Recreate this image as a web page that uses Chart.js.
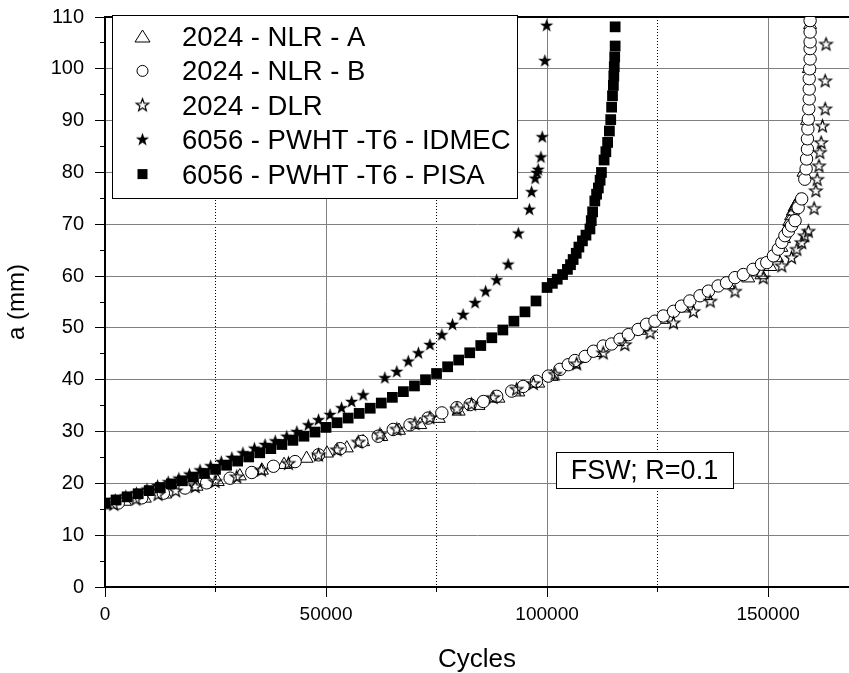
<!DOCTYPE html>
<html><head><meta charset="utf-8">
<script src="https://cdn.jsdelivr.net/npm/chart.js@4.4.1/dist/chart.umd.min.js"></script>
<style>html,body{margin:0;padding:0;background:#fff;}canvas{display:block;}</style>
</head><body>
<canvas id="c" width="849" height="673"></canvas>
<script>
// ---------- data (cycles, a [mm]) ----------
const seriesNames = ['2024 - NLR - A', '2024 - NLR - B', '2024 - DLR', '6056 - PWHT -T6 - IDMEC', '6056 - PWHT -T6 - PISA'];

const nlrA = [[0,15.8],[4500,16.5],[9000,17.1],[13600,17.9],[20700,19.4],[25500,20.3],[30500,21.4],[35500,22.5],[40500,23.6],[45600,24.8],[50200,25.8],[54700,26.8],[58400,28.0],[62500,29.0],[66500,30.2],[71300,31.3],[75500,32.5],[80000,33.9],[84500,35.0],[89000,36.4],[93500,37.6],[98000,39.3],[101000,40.6],[106000,43.0],[111000,45.2],[116000,47.3],[121000,49.5],[126000,51.6],[131000,53.8],[136000,56.2],[141000,58.3],[145500,59.6],[148500,60.2],[150500,61.8],[152000,63.5],[153000,65.5],[153600,67.2],[154200,69.0],[154800,70.5],[155200,71.6],[155600,72.5],[156000,73.3],[156500,74.0],[156900,74.6],[158000,80.0],[158800,90.0],[159200,100.0],[159500,108.5]];

const nlrB = [[3000,16.2],[8300,17.2],[13200,18.1],[18100,19.1],[23000,20.1],[28300,21.0],[33200,22.1],[38100,23.3],[43000,24.2],[48300,25.5],[53200,26.7],[58100,28.1],[61800,29.1],[65200,30.4],[69000,31.3],[73100,32.6],[76200,33.6],[79600,34.6],[82600,35.2],[85600,35.8],[88600,36.8],[92000,37.8],[94600,38.7],[97600,39.7],[100300,40.7],[102900,42.0],[104800,42.9],[106300,43.7],[108600,44.5],[110500,45.5],[112700,46.5],[114600,46.9],[116500,47.8],[118400,48.7],[120600,49.7],[122500,50.7],[124400,51.3],[126300,52.3],[128600,53.2],[130400,54.2],[132300,55.2],[134600,56.2],[136500,57.1],[138700,58.1],[140600,58.7],[142500,59.7],[144400,60.3],[146600,61.3],[148500,62.3],[149700,62.6],[151200,63.9],[152300,65.2],[153100,66.5],[153800,67.8],[154600,68.7],[155300,69.7],[156100,70.7],[156800,73.2],[157600,74.9],[158300,78.7],[158600,80.7],[158700,82.6],[158900,84.5],[158900,86.5],[159000,88.4],[159100,90.3],[159200,92.3],[159300,94.2],[159300,96.1],[159300,98.1],[159400,100.0],[159500,101.9],[159500,103.9],[159500,105.2],[159500,107.1],[159500,109.3]];

const dlr = [[2000,16.0],[7000,17.0],[12000,17.9],[16000,18.6],[20400,19.4],[24900,20.4],[29800,21.3],[35400,22.6],[41500,23.9],[48300,25.5],[52500,26.5],[57300,28.0],[62200,29.5],[66000,30.5],[70100,31.6],[73500,32.7],[79600,34.4],[82900,35.3],[87800,36.6],[93100,38.2],[96900,39.3],[101800,41.1],[106700,43.1],[112700,45.2],[117600,46.8],[123300,49.1],[128600,51.0],[133100,53.2],[136900,55.2],[142500,57.1],[148900,59.7],[153100,62.0],[155300,63.6],[156500,65.2],[157600,66.5],[158300,67.8],[159100,68.7],[160400,73.1],[160800,76.5],[161100,78.7],[161500,81.3],[161700,83.9],[162000,85.8],[162300,89.0],[162900,92.3],[162900,97.7],[163100,104.8]];

const idmec = [[0,16.3],[2300,16.9],[4700,17.6],[7100,18.2],[9500,18.9],[11900,19.6],[14300,20.3],[16700,21.0],[19100,21.8],[21500,22.6],[23900,23.4],[26300,24.2],[28700,25.0],[31200,25.9],[33800,26.8],[36200,27.5],[38500,28.2],[41100,29.1],[43400,30.0],[46000,31.3],[48300,32.3],[50900,33.3],[53500,34.6],[55800,35.8],[58400,37.1],[63300,40.4],[66000,41.6],[68600,43.6],[70900,45.2],[73500,46.8],[76200,48.7],[78600,50.7],[81000,52.6],[83700,54.9],[86100,57.1],[88600,59.3],[91200,62.3],[93500,68.3],[96000,72.9],[96500,76.3],[97300,78.9],[97700,80.0],[98000,80.6],[98600,83.0],[98900,86.9],[99500,101.6],[99900,108.4]];

const pisa = [[0,16.2],[2500,16.8],[5000,17.4],[7500,18.0],[10000,18.6],[12500,19.2],[15000,19.9],[17500,20.5],[20000,21.2],[22500,21.9],[25000,22.7],[27500,23.5],[30000,24.3],[32500,25.1],[35000,25.9],[37500,26.7],[40000,27.5],[42500,28.3],[45000,29.1],[47500,29.9],[50000,30.8],[52500,31.7],[55000,32.6],[57500,33.5],[60000,34.5],[62500,35.5],[65000,36.6],[67500,37.7],[70000,38.8],[72500,40.0],[75000,41.2],[77500,42.5],[80000,43.8],[82500,45.2],[85000,46.6],[87500,48.1],[90000,49.6],[92500,51.3],[95000,53.1],[97500,55.2],[100000,57.8],[101200,58.6],[102300,59.4],[103500,60.3],[104600,61.3],[105300,62.2],[105900,63.2],[106600,64.4],[107200,65.6],[108000,66.8],[108800,67.9],[109700,69.1],[110000,70.7],[110300,72.4],[110800,74.5],[111200,75.8],[111600,77.0],[112000,78.5],[112300,80.0],[112900,82.4],[113300,84.0],[113700,85.8],[114100,88.0],[114400,90.2],[114600,92.6],[114800,94.8],[115000,96.8],[115100,98.6],[115200,100.4],[115300,102.3],[115400,104.4],[115400,108.1]];

// ---------- ticks ----------
const xTickLabels = [0, 50000, 100000, 150000];
const xMinorTicks = [25000, 75000, 125000];
const yTickLabels = [0, 10, 20, 30, 40, 50, 60, 70, 80, 90, 100, 110];
const yMinorTicks = [5, 15, 25, 35, 45, 55, 65, 75, 85, 95, 105];
const X_MIN = 0, X_MAX = 168300, Y_MIN = 0, Y_MAX = 110;
const annotationText = 'FSW; R=0.1';

// ---------- drawing helpers ----------
const FONT = "'Liberation Sans', Arial, sans-serif";
function starPath(g, cx, cy, R, r) {
  g.beginPath();
  for (let i = 0; i < 10; i++) {
    const ang = -Math.PI / 2 + i * Math.PI / 5;
    const rad = i % 2 === 0 ? R : r;
    const px = cx + rad * Math.cos(ang), py = cy + rad * Math.sin(ang);
    if (i === 0) g.moveTo(px, py); else g.lineTo(px, py);
  }
  g.closePath();
}
function makeStar(filled, R, r) {
  const c = document.createElement('canvas');
  c.width = 17; c.height = 17;
  const g = c.getContext('2d');
  starPath(g, 8.5, 9.0, R, r);
  if (filled) { g.fillStyle = '#000'; g.fill(); }
  else { g.strokeStyle = '#000'; g.lineWidth = 1.2; g.stroke(); }
  return c;
}
const filledStar = makeStar(true, 7, 2.8);
const openStar = makeStar(false, 6.6, 2.7);

const toXY = arr => arr.map(([x, y]) => ({ x, y }));
const clear = 'rgba(0,0,0,0)';
const noPad = s => { s.paddingLeft = 0; s.paddingRight = 0; s.paddingTop = 0; s.paddingBottom = 0; };

const boxesPlugin = {
  id: 'boxes',
  afterDatasetsDraw(chart) {
    const ctx = chart.ctx;
    ctx.save();
    // legend box
    ctx.fillStyle = '#fff';
    ctx.fillRect(112.5, 15.5, 405, 183);
    ctx.strokeStyle = '#000';
    ctx.lineWidth = 1;
    ctx.strokeRect(112.5, 15.5, 405, 183);
    ctx.font = '27.5px ' + FONT;
    ctx.fillStyle = '#000';
    ctx.textBaseline = 'alphabetic';
    ctx.textAlign = 'left';
    for (let i = 0; i < seriesNames.length; i++) {
      const base = 46 + 34.4 * i;
      const cy = base - 9.5, cx = 142.5;
      ctx.fillText(seriesNames[i], 182, base);
      ctx.lineWidth = 1;
      ctx.strokeStyle = '#000';
      if (i === 0) {
        ctx.beginPath();
        ctx.moveTo(cx, cy - 6.5); ctx.lineTo(cx + 7.5, cy + 5.5); ctx.lineTo(cx - 7.5, cy + 5.5); ctx.closePath();
        ctx.stroke();
      } else if (i === 1) {
        ctx.beginPath(); ctx.arc(cx, cy, 5.5, 0, Math.PI * 2); ctx.stroke();
      } else if (i === 2) {
        ctx.drawImage(openStar, cx - 8.5, cy - 9);
      } else if (i === 3) {
        ctx.drawImage(filledStar, cx - 8.5, cy - 9);
      } else {
        ctx.fillRect(cx - 5, cy - 5, 10, 10);
      }
    }
    // annotation box
    ctx.fillStyle = '#fff';
    ctx.fillRect(556.5, 452.5, 177, 36);
    ctx.strokeRect(556.5, 452.5, 177, 36);
    ctx.fillStyle = '#000';
    ctx.font = '27px ' + FONT;
    ctx.textAlign = 'center';
    ctx.fillText(annotationText, 644.5, 479);
    ctx.restore();
  }
};

new Chart(document.getElementById('c'), {
  type: 'scatter',
  data: {
    datasets: [
      { label: seriesNames[0], data: toXY(nlrA), pointStyle: 'triangle', pointRadius: 7.5, backgroundColor: clear, borderColor: '#000', borderWidth: 1, order: 5 },
      { label: seriesNames[1], data: toXY(nlrB), pointStyle: 'circle', pointRadius: 6.2, backgroundColor: '#fff', borderColor: '#000', borderWidth: 1, order: 4 },
      { label: seriesNames[2], data: toXY(dlr), pointStyle: openStar, pointRadius: 6.5, backgroundColor: clear, borderColor: '#000', order: 3 },
      { label: seriesNames[3], data: toXY(idmec), pointStyle: filledStar, pointRadius: 6.5, backgroundColor: '#000', borderColor: '#000', order: 2 },
      { label: seriesNames[4], data: toXY(pisa), pointStyle: 'rect', pointRadius: 7.6, backgroundColor: '#000', borderColor: '#000', borderWidth: 0, order: 1 }
    ]
  },
  options: {
    responsive: false,
    animation: false,
    devicePixelRatio: 1,
    events: [],
    layout: { autoPadding: false, padding: { top: 17, right: 0, bottom: 0, left: 0 } },
    plugins: { legend: { display: false }, tooltip: { enabled: false } },
    scales: {
      x: {
        type: 'linear', position: 'bottom', min: X_MIN, max: X_MAX, weight: 0,
        afterBuildTicks: s => { s.ticks = xTickLabels.map(v => ({ value: v })); },
        ticks: { callback: v => String(v), font: { family: FONT, size: 19 }, color: '#000', padding: 6, maxRotation: 0, autoSkip: false },
        grid: { color: c => (c.tick && c.tick.value > 0 ? '#808080' : clear), lineWidth: 1, tickColor: '#000', tickLength: 10, tickWidth: 1 },
        border: { color: '#000', width: 2 },
        title: { display: true, text: 'Cycles', font: { family: FONT, size: 26, lineHeight: 1.0 }, color: '#000', padding: { top: 0, bottom: 0 } },
        afterFit: s => { s.height = 86; noPad(s); }
      },
      xm: {
        type: 'linear', position: 'bottom', min: X_MIN, max: X_MAX, weight: -10,
        afterBuildTicks: s => { s.ticks = xMinorTicks.map(v => ({ value: v })); },
        ticks: { display: false },
        grid: { color: '#000', lineWidth: 1, tickColor: '#000', tickLength: 5 },
        border: { display: false, dash: [1, 2] },
        afterFit: s => { s.height = 0; noPad(s); }
      },
      xt: {
        type: 'linear', position: 'top', min: X_MIN, max: X_MAX,
        grid: { display: false }, ticks: { display: false },
        border: { display: true, color: '#000', width: 2 },
        afterFit: s => { s.height = 0; noPad(s); }
      },
      y: {
        type: 'linear', position: 'left', min: Y_MIN, max: Y_MAX, weight: 0,
        afterBuildTicks: s => { s.ticks = yTickLabels.map(v => ({ value: v })); },
        ticks: { callback: v => String(v), font: { family: FONT, size: 20 }, color: '#000', padding: 11, autoSkip: false },
        grid: { color: c => (c.tick && c.tick.value > 0 ? '#808080' : clear), lineWidth: 1, tickColor: '#000', tickLength: 10 },
        border: { color: '#000', width: 2 },
        title: { display: true, text: 'a (mm)', font: { family: FONT, size: 24 }, color: '#000', padding: { top: 3, bottom: 0 } },
        afterFit: s => { s.width = 105; noPad(s); }
      },
      ym: {
        type: 'linear', position: 'left', min: Y_MIN, max: Y_MAX, weight: -10,
        afterBuildTicks: s => { s.ticks = yMinorTicks.map(v => ({ value: v })); },
        ticks: { display: false },
        grid: { drawOnChartArea: false, tickColor: '#000', tickLength: 5 },
        border: { display: false },
        afterFit: s => { s.width = 0; noPad(s); }
      }
    }
  },
  plugins: [boxesPlugin]
});
</script>
</body></html>
